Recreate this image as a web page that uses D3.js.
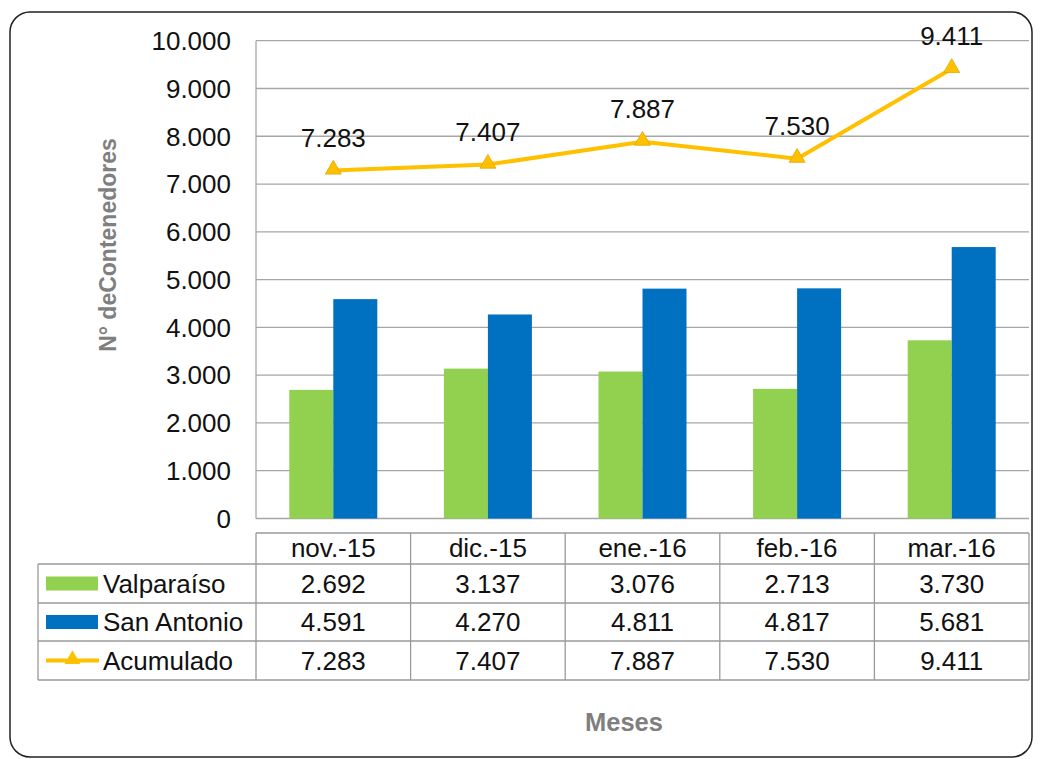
<!DOCTYPE html>
<html><head><meta charset="utf-8">
<script src="https://cdn.jsdelivr.net/npm/d3@7"></script>
<style>body{margin:0;background:#fff;} svg{display:block;font-family:"Liberation Sans",Arial,sans-serif;}</style>
</head><body>
<svg id="c" width="1042" height="759"></svg>
<script>
const categories = ["nov.-15","dic.-15","ene.-16","feb.-16","mar.-16"];
const valparaiso = [2692,3137,3076,2713,3730];
const sanAntonio = [4591,4270,4811,4817,5681];
const acumulado = [7283,7407,7887,7530,9411];
const yTicks = [0,1000,2000,3000,4000,5000,6000,7000,8000,9000,10000];
const seriesNames = ["Valparaíso","San Antonio","Acumulado"];
const colors = ["#92D050","#0070C0","#FFC000"];

(function(){
const svg = d3.select("#c");
const fmt = v => d3.format(",")(v).replace(/,/g,".");
const FS = 26, OFF = 9.3;

svg.append("rect").attr("x",10).attr("y",12).attr("width",1022).attr("height",745)
  .attr("rx",20).attr("ry",20).attr("fill","none").attr("stroke","#222").attr("stroke-width",1.5);

const pLeft=256, pRight=1029, pTop=40.7, pBottom=518.5;
const x = d3.scaleBand().domain(categories).range([pLeft,pRight]);
const y = d3.scaleLinear().domain([0,10000]).range([pBottom,pTop]);

svg.append("g").selectAll("line").data(yTicks).join("line")
  .attr("x1",pLeft).attr("x2",pRight).attr("y1",d=>y(d)).attr("y2",d=>y(d))
  .attr("stroke","#a6a6a6").attr("stroke-width",1.3);
svg.append("line").attr("x1",pLeft).attr("x2",pLeft).attr("y1",pTop).attr("y2",pBottom)
  .attr("stroke","#a6a6a6").attr("stroke-width",1.3);

svg.append("g").selectAll("text").data(yTicks).join("text")
  .attr("x",231).attr("y",d=>y(d)+OFF).attr("text-anchor","end")
  .attr("font-size",FS).attr("fill","#111").text(d=>fmt(d));

const bw = 44;
[valparaiso, sanAntonio].forEach((s,si)=>{
  svg.append("g").selectAll("rect").data(s).join("rect")
    .attr("x",(d,i)=>x(categories[i])+x.bandwidth()/2 - bw + si*bw)
    .attr("y",d=>y(d)).attr("width",bw).attr("height",d=>pBottom-y(d))
    .attr("fill",colors[si]);
});

const cx = i => x(categories[i])+x.bandwidth()/2;
const line = d3.line().x((d,i)=>cx(i)).y(d=>y(d));
svg.append("path").datum(acumulado).attr("d",line).attr("fill","none")
  .attr("stroke",colors[2]).attr("stroke-width",4).attr("stroke-linejoin","round");
const tri = d3.symbol().type(d3.symbolTriangle).size(110);
svg.append("g").selectAll("path").data(acumulado).join("path")
  .attr("d",tri).attr("transform",(d,i)=>`translate(${cx(i)},${y(d)-1})`)
  .attr("fill",colors[2]).attr("stroke","#e0a800").attr("stroke-width",0.8);
svg.append("g").selectAll("text").data(acumulado).join("text")
  .attr("x",(d,i)=>cx(i)).attr("y",d=>y(d)-33+OFF).attr("text-anchor","middle")
  .attr("font-size",FS).attr("fill","#111").text(d=>fmt(d));

const tLeft=38, hTop=533, rows=[564,603,641,680];
const tg = svg.append("g").attr("stroke","#9a9a9a").attr("stroke-width",1.3);
tg.append("line").attr("x1",pLeft).attr("x2",pRight).attr("y1",hTop).attr("y2",hTop);
rows.forEach(r=>tg.append("line").attr("x1",tLeft).attr("x2",pRight).attr("y1",r).attr("y2",r));
tg.append("line").attr("x1",tLeft).attr("x2",tLeft).attr("y1",rows[0]).attr("y2",rows[3]);
categories.forEach(c=>tg.append("line").attr("x1",x(c)).attr("x2",x(c)).attr("y1",hTop).attr("y2",rows[3]));
tg.append("line").attr("x1",pRight).attr("x2",pRight).attr("y1",hTop).attr("y2",rows[3]);

svg.append("g").selectAll("text").data(categories).join("text")
  .attr("x",c=>x(c)+x.bandwidth()/2).attr("y",(hTop+rows[0])/2+OFF-1).attr("text-anchor","middle")
  .attr("font-size",FS).attr("fill","#111").text(c=>c);

[valparaiso,sanAntonio,acumulado].forEach((s,si)=>{
  const cyRow=(rows[si]+rows[si+1])/2;
  svg.append("g").selectAll("text").data(s).join("text")
    .attr("x",(d,i)=>x(categories[i])+x.bandwidth()/2).attr("y",cyRow+OFF)
    .attr("text-anchor","middle").attr("font-size",FS).attr("fill","#111").text(d=>fmt(d));
  if(si<2){
    svg.append("rect").attr("x",46).attr("y",cyRow-7).attr("width",52).attr("height",14).attr("fill",colors[si]);
  } else {
    svg.append("line").attr("x1",46).attr("x2",99).attr("y1",cyRow).attr("y2",cyRow)
      .attr("stroke",colors[2]).attr("stroke-width",4);
    svg.append("path").attr("d",tri).attr("transform",`translate(72.5,${cyRow-1})`).attr("fill",colors[2]);
  }
  svg.append("text").attr("x",103).attr("y",cyRow+OFF).attr("font-size",FS).attr("fill","#111").text(seriesNames[si]);
});

svg.append("text").attr("transform","translate(116,245) rotate(-90)").attr("text-anchor","middle")
  .attr("font-size",23).attr("font-weight","bold").attr("fill","#7f7f7f").text("N° deContenedores");
svg.append("text").attr("x",624).attr("y",731).attr("text-anchor","middle")
  .attr("font-size",25.5).attr("font-weight","bold").attr("fill","#7f7f7f").text("Meses");
})();
</script>
</body></html>
